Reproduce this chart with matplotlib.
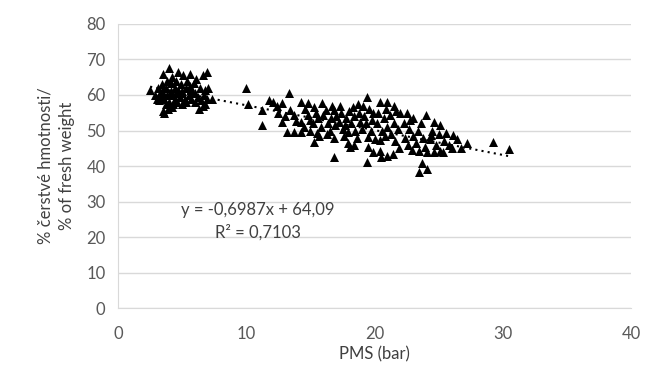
import numpy as np
import matplotlib
matplotlib.use("Agg")
import matplotlib.pyplot as plt

plt.rcParams["font.family"] = ["Lato", "DejaVu Sans"]

# values (PMS in bar, % of fresh weight)
pms_low = [2.5, 2.9, 3.0, 3.1, 3.2, 3.3, 3.4, 3.4, 3.5, 3.5, 3.6, 3.7, 3.7, 3.8, 3.8,
           3.9, 4.0, 4.0, 4.1, 4.1, 4.2, 4.2, 4.3, 4.4, 4.4, 4.5, 4.5, 4.6, 4.7, 4.7,
           4.8, 4.9, 5.0, 5.0, 5.1, 5.2, 5.3, 5.3, 5.4, 5.5, 5.6, 5.6, 5.7, 5.8, 5.9,
           6.0, 6.0, 6.1, 6.2, 6.3, 6.4, 6.5, 6.6, 6.7, 6.8, 6.9, 6.9, 7.0, 6.8, 4.2,
           3.6, 6.6, 7.3, 3.3, 4.9, 5.7]
fw_low = [61.5, 60.0, 59.0, 62.0, 58.5, 60.5, 61.0, 63.0, 66.0, 55.5, 59.0, 57.5, 62.0, 60.0, 64.0,
          56.0, 67.5, 58.0, 61.0, 63.5, 60.0, 65.0, 57.5, 59.0, 62.0, 64.0, 60.5, 58.0, 61.5, 66.5,
          59.5, 63.0, 57.5, 61.0, 65.5, 59.0, 62.0, 58.0, 64.0, 60.0, 66.0, 62.5, 59.0, 61.0, 63.5,
          58.0, 60.5, 64.5, 59.5, 56.0, 62.0, 58.5, 65.5, 60.0, 61.5, 66.5, 59.0, 62.0, 57.5, 56.5,
          55.0, 57.0, 59.0, 59.5, 60.5, 61.5]

pms_high = [10.0, 10.1, 11.2, 11.2, 11.8, 12.1, 12.4, 12.5, 12.8, 12.8, 13.3, 13.2, 13.4, 13.0,
            13.7, 13.7, 14.3, 14.3, 14.3, 14.8, 14.8, 14.5, 13.9, 14.6, 15.0, 15.0,
            15.4, 15.3, 15.5, 15.9, 15.2, 15.6, 15.8, 15.7, 15.3, 16.0,
            16.2, 16.8, 16.8, 16.8, 16.4, 16.5, 16.6, 16.9, 16.3, 16.7, 17.0,
            17.2, 17.4, 17.5, 17.6, 17.9, 17.8, 17.3, 17.7, 18.0, 17.9,
            18.1, 18.3, 18.2, 18.4, 18.5, 18.6, 18.8, 18.9, 18.7, 18.4, 19.0,
            19.4, 19.4, 19.5, 19.9, 19.2, 19.3, 19.6, 19.7, 19.8, 19.5, 19.1, 20.0, 19.9,
            20.4, 20.4, 20.4, 20.2, 20.3, 20.6, 20.7, 20.8, 20.9, 20.5, 21.0, 21.0, 21.0,
            21.4, 21.2, 21.3, 21.5, 21.6, 21.7, 21.8, 21.9, 22.0, 21.5,
            22.3, 22.4, 22.6, 22.7, 22.8, 22.9, 23.0, 22.5, 23.0,
            23.2, 23.5, 23.5, 23.4, 23.6, 23.8, 23.9, 24.0, 23.7,
            24.1, 24.1, 24.3, 24.5, 24.6, 24.6, 24.8, 24.4, 25.0,
            25.1, 25.1, 25.3, 25.6, 25.4, 25.8, 26.1, 26.0, 26.4, 26.7, 27.2,
            29.2, 30.5]
fw_high = [62.0, 57.5, 55.7, 51.6, 58.5, 58.0, 57.0, 55.0, 57.7, 52.4, 60.7, 49.7, 55.7, 54.0,
           49.7, 54.3, 49.7, 58.0, 52.4, 57.7, 54.3, 51.0, 52.8, 56.0, 50.0, 53.0,
           55.0, 46.9, 49.4, 57.7, 52.0, 53.5, 51.0, 48.5, 56.5, 54.5,
           55.7, 55.7, 48.0, 42.5, 52.0, 50.0, 53.5, 51.5, 49.0, 57.0, 54.0,
           52.5, 55.0, 50.5, 48.5, 46.6, 53.5, 57.0, 51.5, 55.5, 49.5,
           45.5, 56.5, 52.0, 54.0, 50.0, 48.0, 55.0, 52.5, 57.5, 46.0, 50.5,
           59.3, 41.1, 48.3, 43.9, 54.0, 52.0, 56.0, 50.0, 53.0, 45.5, 57.0, 47.5, 55.0,
           58.0, 44.1, 47.4, 52.0, 55.0, 50.0, 53.5, 48.5, 56.0, 42.5, 58.0, 42.8, 51.0,
           43.3, 54.5, 49.0, 52.0, 47.0, 55.5, 50.5, 45.0, 55.0, 57.0,
           52.0, 48.0, 46.0, 50.5, 53.0, 44.5, 53.5, 55.0, 48.5,
           46.5, 44.1, 38.3, 50.0, 52.0, 48.0, 45.5, 54.3, 41.0,
           43.9, 39.2, 47.5, 50.0, 52.4, 43.9, 46.0, 48.8, 49.0,
           51.6, 44.1, 43.9, 49.4, 47.0, 46.0, 48.8, 45.0, 47.5, 45.2, 46.6,
           46.9, 44.7]

slope = -0.6987
intercept = 64.09

pms = np.array(pms_low + pms_high)
fw = np.array(fw_low + fw_high)

fig = plt.figure(figsize=(6.56, 3.74), dpi=100)
ax = fig.add_axes([0.18, 0.176, 0.782, 0.76])

grid_c = "#d9d9d9"
ax.scatter(pms, fw, marker="^", s=42, color="black", linewidths=0, zorder=3)

xs = np.array([pms.min(), pms.max()])
ax.plot(xs, slope * xs + intercept, color="black", linestyle=(0, (1, 2.0)),
        linewidth=1.5, zorder=4)

ax.set_xlim(0, 40)
ax.set_ylim(0, 80)
ax.set_xticks(range(0, 41, 10))
ax.set_yticks(range(0, 81, 10))
ax.yaxis.grid(True, color=grid_c, linewidth=1)
ax.set_axisbelow(True)
for side in ("top", "right"):
    ax.spines[side].set_visible(False)
for side in ("left", "bottom"):
    ax.spines[side].set_color(grid_c)
ax.tick_params(length=0, labelsize=12, labelcolor="#595959")
ax.tick_params(axis="y", pad=9)
ax.tick_params(axis="x", pad=13)

ax.set_xlabel("PMS (bar)", fontsize=12, color="#404040", labelpad=3)
ax.set_ylabel("% čerstvé hmotnosti/\n% of fresh weight", fontsize=12,
              color="#404040", labelpad=8, linespacing=1.45)

ax.text(10.9, 27.5, "y = -0,6987x + 64,09", fontsize=12, color="#404040",
        ha="center", va="center")
ax.text(10.9, 21.3, "R² = 0,7103", fontsize=12, color="#404040",
        ha="center", va="center")

fig.savefig("out.png", dpi=100)
